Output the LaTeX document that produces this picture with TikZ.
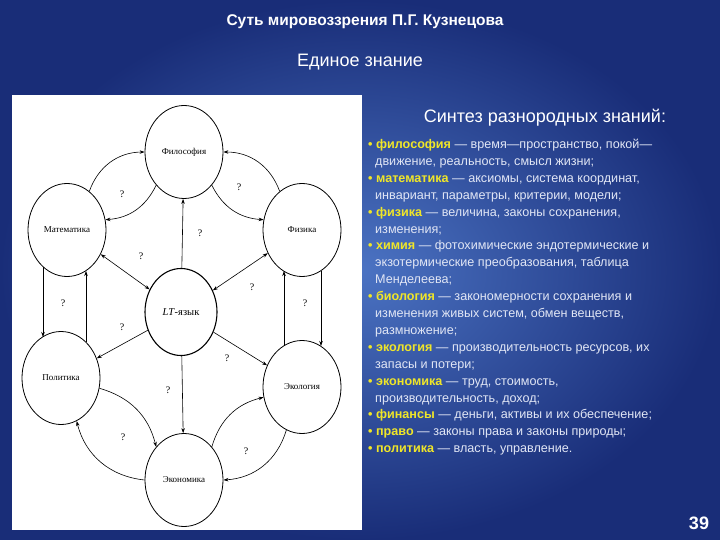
\documentclass[tikz,border=0pt]{standalone}
\usepackage{fontspec}
\setmainfont{Liberation Sans}
\newfontfamily\dserif{Liberation Serif}
\usetikzlibrary{arrows.meta,shapes.geometric}
\definecolor{bgdark}{RGB}{25,45,120}
\definecolor{bglight}{RGB}{75,115,195}
\definecolor{kw}{RGB}{240,230,40}
\definecolor{txt}{RGB}{225,230,245}
\newcommand{\kwd}[1]{\textbf{\textcolor{kw}{#1}}}
\tikzset{
  circ/.style={draw=black, line width=0.8pt, ellipse, minimum width=78pt, minimum height=93pt, inner sep=0pt, font=\dserif\fontsize{9}{10}\selectfont},
  conn/.style={draw=black, line width=0.6pt, -{Stealth[length=5pt,width=3.5pt]}},
  dconn/.style={draw=black, line width=0.6pt, {Stealth[length=5pt,width=3.5pt]}-{Stealth[length=5pt,width=3.5pt]}},
  qm/.style={font=\dserif\fontsize{10}{10}\selectfont},
  title/.style={text=white, font=\bfseries}
}
\begin{document}
\begin{tikzpicture}[x=1pt,y=-1pt]
\useasboundingbox (0,0) rectangle (720,540);
\shade[inner color=bglight, outer color=bgdark] (0,0) rectangle (720,540);
\fill[white] (12,95) rectangle (362,530);
\node[title, font=\bfseries\fontsize{15.5}{18}\selectfont] (t1) at (365,22) {Суть мировоззрения П.Г. Кузнецова};
\node[title, font=\fontsize{18}{20}\selectfont] (t2) at (360,62) {Единое знание};
\node[title, font=\fontsize{18}{20}\selectfont] (t3) at (545,118) {Синтез разнородных знаний:};
\node[anchor=north west, text=txt, align=left, inner sep=0pt, font=\fontsize{12.6}{16.9}\selectfont] (lst) at (368,139) {%
\kwd{• философия} — время—пространство, покой—\\
\ \ движение, реальность, смысл жизни;\\
\kwd{• математика} — аксиомы, система координат,\\
\ \ инвариант, параметры, критерии, модели;\\
\kwd{• физика} — величина, законы сохранения,\\
\ \ изменения;\\
\kwd{• химия} — фотохимические эндотермические и\\
\ \ экзотермические преобразования, таблица\\
\ \ Менделеева;\\
\kwd{• биология} — закономерности сохранения и\\
\ \ изменения живых систем, обмен веществ,\\
\ \ размножение;\\
\kwd{• экология} — производительность ресурсов, их\\
\ \ запасы и потери;\\
\kwd{• экономика} — труд, стоимость,\\
\ \ производительность, доход;\\
\kwd{• финансы} — деньги, активы и их обеспечение;\\
\kwd{• право} — законы права и законы природы;\\
\kwd{• политика} — власть, управление.};
\node[title, font=\bfseries\fontsize{18}{20}\selectfont] (pg) at (699,523) {39};
% circles
\node[circ] (fil) at (184,152) {Философия};
\node[circ] (mat) at (67,230) {Математика};
\node[circ] (fiz) at (302,230) {Физика};
\node[circ, minimum width=72pt, minimum height=87pt, line width=1.1pt, font=\dserif\fontsize{10.5}{11}\selectfont] (lt) at (181,312) {\textit{LT}-язык};
\node[circ] (pol) at (61,378) {Политика};
\node[circ] (eko) at (302,387) {Экология};
\node[circ] (eco) at (184,480) {Экономика};
\coordinate (m1) at (43,267); \coordinate (p1) at (43,337);
\coordinate (m2) at (86,271); \coordinate (p2) at (86,342);
\coordinate (f1) at (284,271); \coordinate (e1) at (284,346);
\coordinate (f2) at (321,271); \coordinate (e2) at (321,346);
% straight
\draw[conn] (lt) -- (fil);
\draw[dconn] (mat) -- (lt);
\draw[dconn] (fiz) -- (lt);
\draw[conn] (lt) -- (pol);
\draw[conn] (lt) -- (eko);
\draw[conn] (lt) -- (eco);
\draw[conn] (m1) -- (p1);
\draw[conn] (p2) -- (m2);
\draw[conn] (e1) -- (f1);
\draw[conn] (f2) -- (e2);
% curves
\draw[conn] (mat.60) to[bend left=35] (fil.180);
\draw[conn] (fil.230) to[bend left=30] (mat.15);
\draw[conn] (fiz.120) to[bend right=35] (fil.0);
\draw[conn] (fil.310) to[bend right=30] (fiz.165);
\draw[conn] (pol.345) to[bend left=30] (eco.130);
\draw[conn] (eco.180) to[bend left=35] (pol.290);
\draw[conn] (eco.50) to[bend left=30] (eko.195);
\draw[conn] (eko.250) to[bend left=35] (eco.0);
% question marks
\foreach \x/\y [count=\i] in {122/194,239/187,200/233,141/256,252/287,63/303,305/303,122/327,227/358,168/390,123/437,246/451}
  \node[qm] (q\i) at (\x,\y) {?};
\end{tikzpicture}
\end{document}
